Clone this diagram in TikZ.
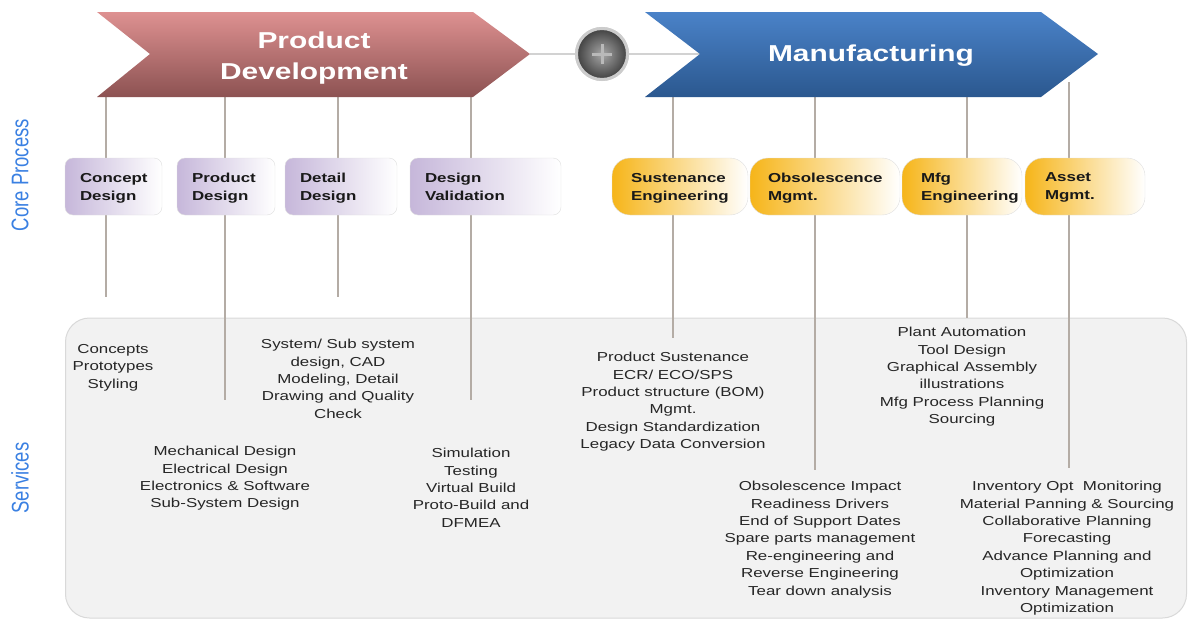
\documentclass[tikz,border=0pt]{standalone}
\usepackage{graphicx}
\usepackage{fontspec}
\setmainfont{Liberation Sans}[FakeStretch=1.3]
\newfontfamily\sidefont{Liberation Sans}
\usepackage{tikz}
\usetikzlibrary{arrows.meta}

\definecolor{pdtop}{HTML}{DE9191}
\definecolor{pdbot}{HTML}{8C5252}
\definecolor{mfgtop}{HTML}{4A82C8}
\definecolor{mfgbot}{HTML}{2B588F}
\definecolor{lilac}{HTML}{C6B7DA}
\definecolor{amber}{HTML}{F6B519}
\definecolor{stem}{HTML}{B4ACA5}
\definecolor{sideblue}{HTML}{3A80E2}
\definecolor{svcgray}{HTML}{F2F2F2}

\tikzset{
  stemline/.style={draw=stem, line width=1.3pt},
  joinline/.style={draw=gray!35, line width=2pt},
  pdshape/.style={top color=pdtop, bottom color=pdbot},
  mfgshape/.style={top color=mfgtop, bottom color=mfgbot},
  headtext/.style={text=white, align=center, font=\bfseries\fontsize{23}{31}\selectfont},
  pdbox/.style={draw=gray!25, rounded corners=8pt, left color=lilac, right color=white, minimum height=57pt},
  mfgbox/.style={draw=gray!25, rounded corners=18pt, left color=amber, middle color=amber!60, right color=white, minimum height=57pt},
  boxtext/.style={anchor=north west, align=left, inner sep=0pt, text=black!90, font=\bfseries\fontsize{13}{18}\selectfont},
  svcframe/.style={draw=gray!30, fill=svcgray, rounded corners=24pt, line width=1pt},
  svctext/.style={anchor=north, align=center, inner sep=0pt, text=black!85, font=\fontsize{13}{17.4}\selectfont},
  sidelbl/.style={rotate=90, text=sideblue, inner sep=0pt, font=\sidefont\fontsize{18.5}{20}\selectfont},
  plusball/.style={circle, minimum size=51pt, inner sep=0pt, inner color=gray!85!black!60, outer color=black!75, draw=gray!40, line width=3pt},
  plussign/.style={draw=gray!55, line width=3pt},
}

\begin{document}
\begin{tikzpicture}[x=1pt, y=-1pt, >=Stealth]
  \useasboundingbox (0,0) rectangle (1188,621);

  \node[svcframe, minimum width=1121pt, minimum height=300pt] (svc) at (626,468) {};

  \foreach \nm/\x/\ya/\yb in {cd/106/97/297, pd/225/97/400, dd/338/97/297, dv/471/97/400,
                               se/673/97/338, om/815/97/470, me/967/97/318, am/1069/82/468}
  {
    \coordinate (\nm-top) at (\x,\ya);
    \coordinate (\nm-end) at (\x,\yb);
    \draw[stemline] (\nm-top) -- (\nm-end);
  }

  \coordinate (pd-tip) at (530,54);
  \coordinate (mfg-notch) at (700,54);
  \node[plusball] (plus) at (602,54) {};
  \draw[joinline] (pd-tip) -- (plus) -- (mfg-notch);
  \node[plusball] at (plus) {};
  \draw[plussign] ([xshift=-10pt]plus.center) -- ([xshift=10pt]plus.center);
  \draw[plussign] ([yshift=-10pt]plus.center) -- ([yshift=10pt]plus.center);

  \path[pdshape] (97,12) -- (473,12) -- (pd-tip) -- (473,97) -- (97,97) -- (150,54) -- cycle;
  \path[mfgshape] (645,12) -- (1041,12) -- (1098,54) -- (1041,97) -- (645,97) -- (mfg-notch) -- cycle;
  \node[headtext] (pd) at (314,58) {Product\\Development};
  \node[headtext] (mfg) at (871,56) {Manufacturing};

  \node[sidelbl] (core-lbl) at (20,175) {\scalebox{1}[1.3]{Core Process}};
  \node[sidelbl] (svc-lbl) at (20,478) {\scalebox{1}[1.3]{Services}};

  \node[pdbox, minimum width=97pt] (cd) at (113.5,186.5) {};
  \node[boxtext] (cd-t) at ([xshift=15pt,yshift=-15pt]cd.north west) {Concept\\Design};
  \node[pdbox, minimum width=98pt] (pdn) at (226,186.5) {};
  \node[boxtext] (pdn-t) at ([xshift=15pt,yshift=-15pt]pdn.north west) {Product\\Design};
  \node[pdbox, minimum width=112pt] (dd) at (341,186.5) {};
  \node[boxtext] (dd-t) at ([xshift=15pt,yshift=-15pt]dd.north west) {Detail\\Design};
  \node[pdbox, minimum width=151pt] (dv) at (485.5,186.5) {};
  \node[boxtext] (dv-t) at ([xshift=15pt,yshift=-15pt]dv.north west) {Design\\Validation};

  \node[mfgbox, minimum width=136pt] (se) at (680,186.5) {};
  \node[boxtext] (se-t) at ([xshift=19pt,yshift=-15pt]se.north west) {Sustenance\\Engineering};
  \node[mfgbox, minimum width=150pt] (om) at (825,186.5) {};
  \node[boxtext] (om-t) at ([xshift=18pt,yshift=-15pt]om.north west) {Obsolescence\\Mgmt.};
  \node[mfgbox, minimum width=120pt] (me) at (962,186.5) {};
  \node[boxtext] (me-t) at ([xshift=19pt,yshift=-15pt]me.north west) {Mfg\\Engineering};
  \node[mfgbox, minimum width=120pt] (am) at (1085,186.5) {};
  \node[boxtext] (am-t) at ([xshift=20pt,yshift=-15pt]am.north west) {Asset\\Mgmt.};

  \node[svctext] (s-cd) at (113,344) {Concepts\\Prototypes\\Styling};
  \node[svctext] (s-dd) at (338,339) {System/ Sub system\\design, CAD\\Modeling, Detail\\Drawing and Quality\\Check};
  \node[svctext] (s-pd) at (225,446) {Mechanical Design\\Electrical Design\\Electronics \& Software\\Sub-System Design};
  \node[svctext] (s-dv) at (471,448) {Simulation\\Testing\\Virtual Build\\Proto-Build and\\DFMEA};
  \node[svctext] (s-se) at (673,352) {Product Sustenance\\ECR/ ECO/SPS\\Product structure (BOM)\\Mgmt.\\Design Standardization\\Legacy Data Conversion};
  \node[svctext] (s-me) at (962,327) {Plant Automation\\Tool Design\\Graphical Assembly\\illustrations\\Mfg Process Planning\\Sourcing};
  \node[svctext] (s-om) at (820,481) {Obsolescence Impact\\Readiness Drivers\\End of Support Dates\\Spare parts management\\Re-engineering and\\Reverse Engineering\\Tear down analysis};
  \node[svctext] (s-am) at (1067,481) {Inventory Opt\ \ Monitoring\\Material Panning \& Sourcing\\Collaborative Planning\\Forecasting\\Advance Planning and\\Optimization\\Inventory Management\\Optimization};
\end{tikzpicture}
\end{document}
